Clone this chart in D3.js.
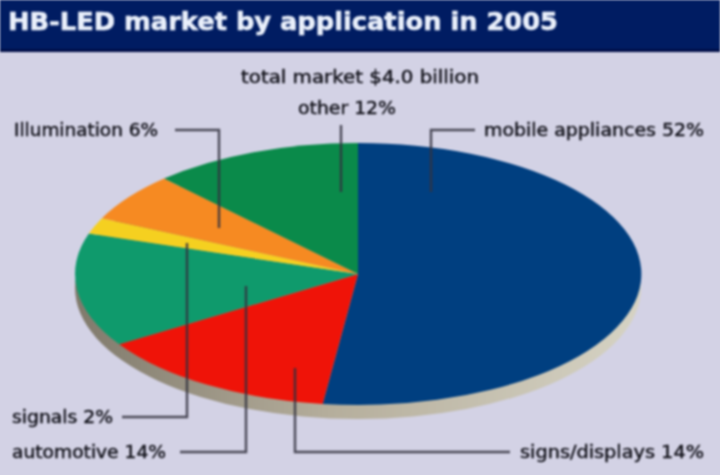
<!DOCTYPE html>
<html><head><meta charset="utf-8">
<script src="https://cdn.jsdelivr.net/npm/d3@7"></script>
<style>html,body{margin:0;padding:0;background:#d3d2e5}svg{display:block;filter:blur(0.9px)}</style>
</head><body><svg id="c" width="720" height="475"></svg>
<script>
const categories=["mobile appliances","signs/displays","automotive","signals","illumination","other"];
const values=[52,14,14,2,6,12];
const colors=["#003f80","#ef1308","#0f9a6c","#f5d020","#f68a22","#0a8a4a"];
const titleText="HB-LED market by application in 2005";
const subtitle="total market $4.0 billion";
const labelTexts=["mobile appliances 52%","signs/displays 14%","automotive 14%","signals 2%","Illumination 6%","other 12%"];

const svg=d3.select("#c");
const defs=svg.append("defs");
const g=defs.append("linearGradient").attr("id","side").attr("x1",0).attr("x2",1).attr("y1",0).attr("y2",0);
g.append("stop").attr("offset","0%").attr("stop-color","#807a6c");
g.append("stop").attr("offset","45%").attr("stop-color","#b5ae9c");
g.append("stop").attr("offset","100%").attr("stop-color","#d6d3c4");

svg.append("rect").attr("width",720).attr("height",475).attr("fill","#d3d2e5");
svg.append("rect").attr("width",720).attr("height",50).attr("fill","#001c62");
svg.append("rect").attr("y",49).attr("width",720).attr("height",3).attr("fill","#000f48");
svg.append("text").attr("x",8).attr("y",30).attr("font-family","'DejaVu Sans'").attr("font-weight","bold")
  .attr("font-size",25).attr("fill","#eaf0fb").attr("stroke","#eaf0fb").attr("stroke-width",0.6)
  .attr("textLength",550).attr("lengthAdjust","spacingAndGlyphs").text(titleText);

const cx=358,cy=274,rx=283,ry=131,depth=14;
const pie=d3.pie().sort(null).value(d=>d);
const arcs=pie(values);
const arc=d3.arc().innerRadius(0).outerRadius(1);
svg.append("g").attr("transform",`translate(${cx},${cy+depth}) scale(${rx},${ry})`)
  .append("path").attr("d",d3.arc().innerRadius(0).outerRadius(1).startAngle(0).endAngle(2*Math.PI)()).attr("fill","url(#side)");
svg.append("g").attr("transform",`translate(${cx},${cy}) scale(${rx},${ry})`)
  .selectAll("path").data(arcs).join("path").attr("d",arc).attr("fill",(d,i)=>colors[i]);

const leaders=[
 [[475,130],[431,130],[431,192]],
 [[510,452],[295,452],[295,368]],
 [[180,452],[246,452],[246,286]],
 [[122,417],[187,417],[187,243]],
 [[175,130],[219,130],[219,228]],
 [[341,125],[341,192]]
];
const line=d3.line();
svg.append("g").selectAll("path").data(leaders).join("path").attr("d",line)
  .attr("fill","none").attr("stroke","#33333f").attr("stroke-width",2.4).attr("stroke-opacity",.85);

const labelPos=[[484,136,220],[520,458,184],[12,458,154],[12,423,101],[14,136,144],[298,114,98]];
const txt=svg.append("g").attr("font-family","'DejaVu Sans'").attr("font-size",17).attr("fill","#101018")
  .attr("stroke","#101018").attr("stroke-width",0.4);
txt.selectAll("text").data(labelTexts).join("text")
  .attr("x",(d,i)=>labelPos[i][0]).attr("y",(d,i)=>labelPos[i][1])
  .attr("textLength",(d,i)=>labelPos[i][2]).attr("lengthAdjust","spacingAndGlyphs").text(d=>d);
txt.append("text").attr("x",241).attr("y",83).attr("textLength",238).attr("lengthAdjust","spacingAndGlyphs").text(subtitle);
</script></body></html>
